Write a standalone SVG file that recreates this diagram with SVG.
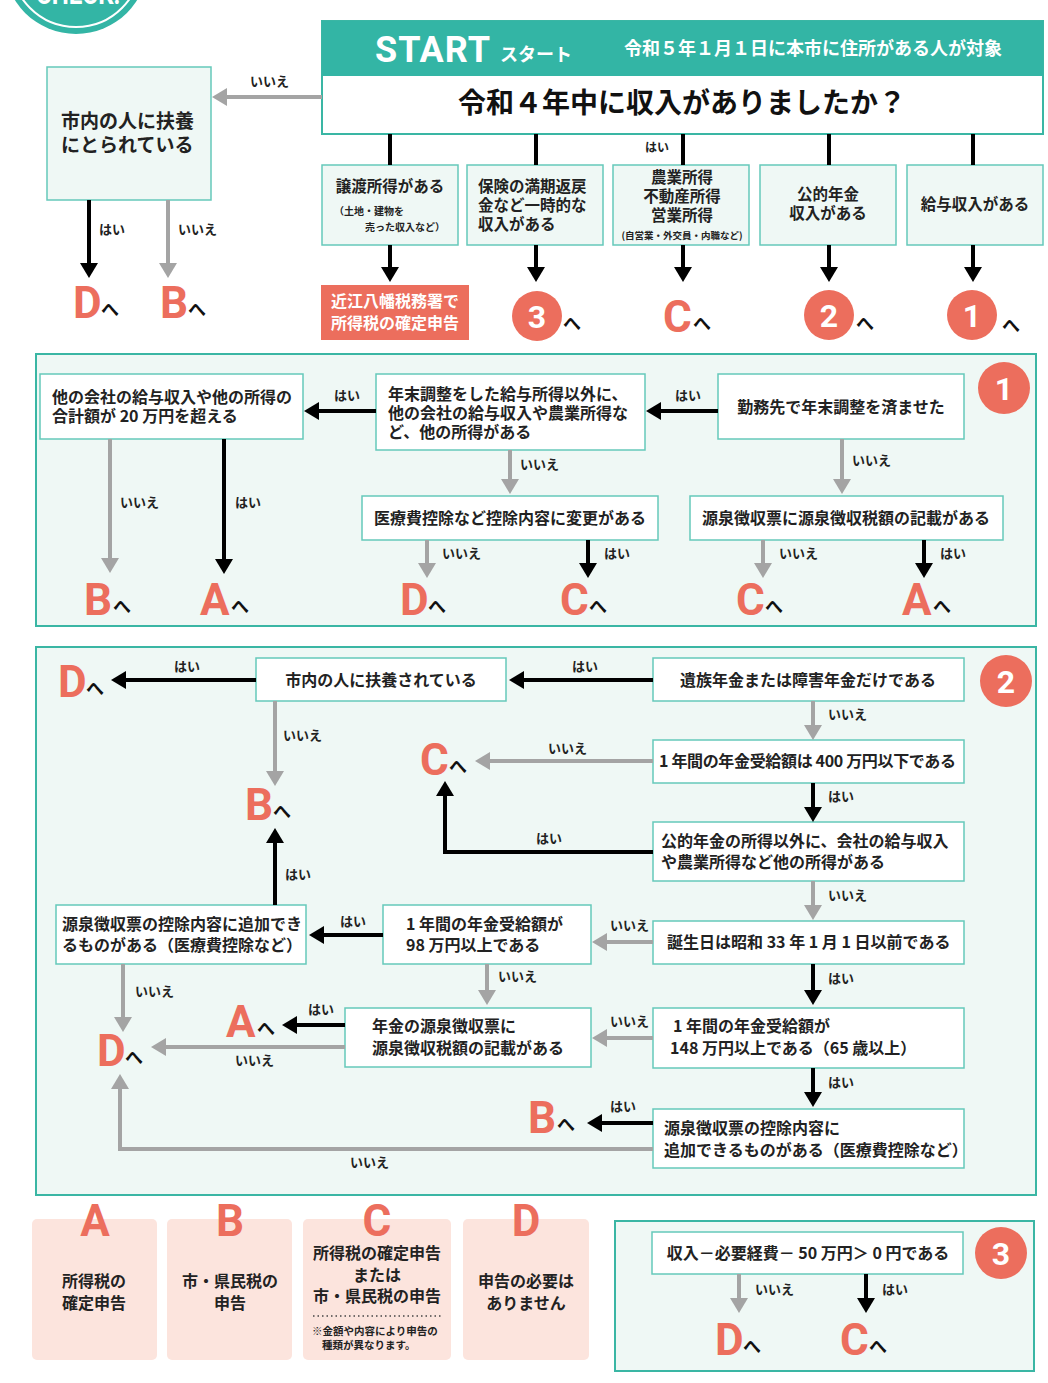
<svg xmlns="http://www.w3.org/2000/svg" width="1048" height="1383" viewBox="0 0 1048 1383">
<style>
.t{font-family:"Noto Sans CJK JP","Noto Sans",sans-serif;font-weight:700;fill:#222;font-size:16px}
.s{font-size:15.5px}
.m{text-anchor:middle}
.lb{font-family:"Noto Sans CJK JP",sans-serif;font-weight:700;font-size:13px;fill:#222}
.box{fill:#fff;stroke:#66c9ba;stroke-width:1.5}
.mb{fill:#eff8f5;stroke:#66c9ba;stroke-width:1.5}
.panel{fill:#eff8f5;stroke:#3ab6a4;stroke-width:2}
.blk{stroke:#000;stroke-width:4;fill:none}
.gry{stroke:#a4a4a4;stroke-width:4;fill:none}
.big{font-family:Roboto,"Liberation Sans",sans-serif;font-weight:700;font-size:44px;fill:#ec6e5d}
.he{font-family:"Noto Sans CJK JP",sans-serif;font-weight:700;font-size:18px;fill:#111}
.cn{font-family:Roboto,"Liberation Sans",sans-serif;font-weight:700;font-size:32px;fill:#fff;text-anchor:middle}
.leg{fill:#fce4dd}
</style>
<defs>
<marker id="ab" markerUnits="userSpaceOnUse" markerWidth="16" markerHeight="20" refX="0" refY="10" orient="auto"><path d="M0,1 L15,10 L0,19 z" fill="#000"/></marker>
<marker id="ag" markerUnits="userSpaceOnUse" markerWidth="16" markerHeight="20" refX="0" refY="10" orient="auto"><path d="M0,1 L15,10 L0,19 z" fill="#a4a4a4"/></marker>
</defs>

<!-- CHECK badge -->
<g id="badge">
<circle cx="76" cy="-38" r="72" fill="#33b5a5"/>
<circle cx="76" cy="-38" r="65" fill="none" stroke="#fff" stroke-width="2"/>
<text x="78" y="4" font-family="Roboto,sans-serif" font-weight="700" font-size="30" fill="#fff" text-anchor="middle" textLength="84" lengthAdjust="spacingAndGlyphs">CHECK!</text>
</g>

<!-- panels -->
<rect class="panel" x="36" y="354" width="1000" height="272"/>
<rect class="panel" x="36" y="647" width="1000" height="548"/>
<rect class="panel" x="615" y="1221" width="419" height="150"/>

<!-- header -->
<g id="start">
<rect x="322" y="21" width="721" height="113" fill="#fff" stroke="#3ab6a4" stroke-width="2"/>
<rect x="322" y="21" width="721" height="55" fill="#33b5a5"/>
<text x="375" y="62" font-family="Roboto,sans-serif" font-weight="700" font-size="36" fill="#fff" letter-spacing="1">START</text>
<text x="500" y="61" class="t" style="font-size:18px;fill:#fff">スタート</text>
<text x="813" y="55" class="t m" style="font-size:18px;fill:#fff">令和５年１月１日に本市に住所がある人が対象</text>
<text x="682" y="113" class="t m" style="font-size:28px;fill:#111">令和４年中に収入がありましたか？</text>
</g>

<g id="fuyou-top">
<rect class="mb" x="47" y="67" width="164" height="133"/>
<text class="t" style="font-size:19px"><tspan x="61" y="128">市内の人に扶養</tspan><tspan x="61" y="152">にとられている</tspan></text>
</g>

<g id="q-jouto"><rect class="mb" x="322" y="165" width="136" height="80"/>
<text x="390" y="192" class="t s m">譲渡所得がある</text>
<text class="t" style="font-size:10px"><tspan x="334" y="215">（土地・建物を</tspan><tspan x="365" y="231">売った収入など）</tspan></text></g>
<g id="q-hoken"><rect class="mb" x="467" y="165" width="136" height="80"/>
<text class="t s"><tspan x="478" y="192">保険の満期返戻</tspan><tspan x="478" y="211">金など一時的な</tspan><tspan x="478" y="230">収入がある</tspan></text></g>
<g id="q-nougyou"><rect class="mb" x="613" y="165" width="136" height="80"/>
<text class="t s m"><tspan x="682" y="183">農業所得</tspan><tspan x="682" y="202">不動産所得</tspan><tspan x="682" y="221">営業所得</tspan><tspan x="682" y="239" style="font-size:9.5px">(自営業・外交員・内職など)</tspan></text></g>
<g id="q-nenkin"><rect class="mb" x="760" y="165" width="136" height="80"/>
<text class="t s m"><tspan x="828" y="200">公的年金</tspan><tspan x="828" y="219">収入がある</tspan></text></g>
<g id="q-kyuyo"><rect class="mb" x="907" y="165" width="136" height="80"/>
<text x="975" y="210" class="t s m">給与収入がある</text></g>

<g id="r-zeimusho"><rect x="321" y="285" width="148" height="55" fill="#ec6e5d"/>
<text class="t m" style="fill:#fff"><tspan x="395" y="307">近江八幡税務署で</tspan><tspan x="395" y="329">所得税の確定申告</tspan></text></g>
<g id="r-3"><circle cx="537" cy="316" r="25" fill="#ec6e5d"/><text x="537" y="328" class="cn">3</text><text x="563" y="330" class="he">へ</text></g>
<g id="r-c"><text x="663" y="332" class="big">C</text><text x="693" y="330" class="he">へ</text></g>
<g id="r-2"><circle cx="829" cy="315" r="25" fill="#ec6e5d"/><text x="829" y="327" class="cn">2</text><text x="856" y="330" class="he">へ</text></g>
<g id="r-1"><circle cx="972" cy="315" r="25" fill="#ec6e5d"/><text x="972" y="327" class="cn">1</text><text x="1002" y="332" class="he">へ</text></g>
<g id="r-tl"><text x="73" y="318" class="big">D</text><text x="101" y="316" class="he">へ</text>
<text x="160" y="318" class="big">B</text><text x="188" y="316" class="he">へ</text></g>

<!-- section 1 -->
<g id="s1-circle"><circle cx="1004" cy="388" r="26" fill="#ec6e5d"/><text x="1004" y="400" class="cn">1</text></g>
<g id="s1-kinmu"><rect class="box" x="718" y="374" width="246" height="65"/>
<text x="841" y="413" class="t m">勤務先で年末調整を済ませた</text></g>
<g id="s1-hoka"><rect class="box" x="376" y="374" width="269" height="76"/>
<text class="t"><tspan x="388" y="400">年末調整をした給与所得以外に、</tspan><tspan x="388" y="419">他の会社の給与収入や農業所得な</tspan><tspan x="388" y="438">ど、他の所得がある</tspan></text></g>
<g id="s1-20man"><rect class="box" x="40" y="374" width="263" height="65"/>
<text class="t"><tspan x="52" y="403">他の会社の給与収入や他の所得の</tspan><tspan x="52" y="422">合計額が 20 万円を超える</tspan></text></g>
<g id="s1-iryou"><rect class="box" x="362" y="496" width="296" height="44"/>
<text x="510" y="524" class="t m">医療費控除など控除内容に変更がある</text></g>
<g id="s1-gensen"><rect class="box" x="690" y="496" width="313" height="44"/>
<text x="846" y="524" class="t m">源泉徴収票に源泉徴収税額の記載がある</text></g>
<g id="s1-targets">
<text x="84" y="615" class="big">B</text><text x="113" y="613" class="he">へ</text>
<text x="200" y="615" class="big">A</text><text x="231" y="613" class="he">へ</text>
<text x="400" y="615" class="big">D</text><text x="428" y="613" class="he">へ</text>
<text x="560" y="615" class="big">C</text><text x="589" y="613" class="he">へ</text>
<text x="736" y="615" class="big">C</text><text x="765" y="613" class="he">へ</text>
<text x="902" y="615" class="big">A</text><text x="933" y="613" class="he">へ</text>
</g>

<!-- section 2 -->
<g id="s2-circle"><circle cx="1006" cy="681" r="26" fill="#ec6e5d"/><text x="1006" y="693" class="cn">2</text></g>
<g id="s2-izoku"><rect class="box" x="653" y="658" width="311" height="43"/>
<text x="808" y="686" class="t m">遺族年金または障害年金だけである</text></g>
<g id="s2-fuyou"><rect class="box" x="256" y="658" width="250" height="43"/>
<text x="381" y="686" class="t m">市内の人に扶養されている</text></g>
<g id="s2-400"><rect class="box" x="653" y="740" width="311" height="43"/>
<text x="659" y="767" class="t" textLength="297" lengthAdjust="spacing">1 年間の年金受給額は 400 万円以下である</text></g>
<g id="s2-hoka"><rect class="box" x="653" y="822" width="311" height="59"/>
<text class="t"><tspan x="661" y="847">公的年金の所得以外に、会社の給与収入</tspan><tspan x="661" y="868">や農業所得など他の所得がある</tspan></text></g>
<g id="s2-birth"><rect class="box" x="653" y="921" width="311" height="43"/>
<text x="667" y="948" class="t">誕生日は昭和 33 年 1 月 1 日以前である</text></g>
<g id="s2-98"><rect class="box" x="383" y="905" width="208" height="59"/>
<text class="t"><tspan x="406" y="930">1 年間の年金受給額が</tspan><tspan x="406" y="951">98 万円以上である</tspan></text></g>
<g id="s2-koujo1"><rect class="box" x="56" y="905" width="250" height="59"/>
<text class="t"><tspan x="62" y="930">源泉徴収票の控除内容に追加でき</tspan><tspan x="62" y="951">るものがある（医療費控除など）</tspan></text></g>
<g id="s2-nenkin-gensen"><rect class="box" x="345" y="1008" width="246" height="59"/>
<text class="t"><tspan x="372" y="1032">年金の源泉徴収票に</tspan><tspan x="372" y="1054">源泉徴収税額の記載がある</tspan></text></g>
<g id="s2-148"><rect class="box" x="653" y="1008" width="311" height="60"/>
<text class="t"><tspan x="673" y="1032">1 年間の年金受給額が</tspan><tspan x="670" y="1054">148 万円以上である（65 歳以上）</tspan></text></g>
<g id="s2-koujo2"><rect class="box" x="653" y="1109" width="311" height="59"/>
<text class="t"><tspan x="664" y="1134">源泉徴収票の控除内容に</tspan><tspan x="664" y="1156">追加できるものがある（医療費控除など）</tspan></text></g>
<g id="s2-targets">
<text x="58" y="697" class="big">D</text><text x="86" y="695" class="he">へ</text>
<text x="245" y="820" class="big">B</text><text x="273" y="818" class="he">へ</text>
<text x="420" y="775" class="big">C</text><text x="449" y="773" class="he">へ</text>
<text x="226" y="1037" class="big">A</text><text x="257" y="1035" class="he">へ</text>
<text x="97" y="1066" class="big">D</text><text x="125" y="1064" class="he">へ</text>
<text x="528" y="1133" class="big">B</text><text x="557" y="1131" class="he">へ</text>
</g>

<!-- section 3 -->
<g id="s3-circle"><circle cx="1001" cy="1253" r="26" fill="#ec6e5d"/><text x="1001" y="1265" class="cn">3</text></g>
<g id="s3-box"><rect class="box" x="652" y="1232" width="311" height="42"/>
<text x="808" y="1259" class="t m">収入－必要経費－ 50 万円＞ 0 円である</text></g>
<g id="s3-targets">
<text x="715" y="1355" class="big">D</text><text x="743" y="1353" class="he">へ</text>
<text x="840" y="1355" class="big">C</text><text x="869" y="1353" class="he">へ</text>
</g>

<!-- legend -->
<g id="leg-a"><rect class="leg" x="32" y="1219" width="125" height="141" rx="5"/>
<text x="95" y="1236" class="big" text-anchor="middle">A</text>
<text class="t m"><tspan x="94" y="1287">所得税の</tspan><tspan x="94" y="1309">確定申告</tspan></text></g>
<g id="leg-b"><rect class="leg" x="167" y="1219" width="125" height="141" rx="5"/>
<text x="230" y="1236" class="big" text-anchor="middle">B</text>
<text class="t m"><tspan x="230" y="1287">市・県民税の</tspan><tspan x="230" y="1309">申告</tspan></text></g>
<g id="leg-c"><rect class="leg" x="303" y="1219" width="148" height="141" rx="5"/>
<text x="377" y="1236" class="big" text-anchor="middle">C</text>
<text class="t m"><tspan x="377" y="1259">所得税の確定申告</tspan><tspan x="377" y="1281">または</tspan><tspan x="377" y="1302">市・県民税の申告</tspan></text>
<line x1="313" y1="1316" x2="443" y2="1316" stroke="#444" stroke-width="1.5" stroke-dasharray="1.5 3"/>
<text class="t" style="font-size:10.5px"><tspan x="312" y="1335">※金額や内容により申告の</tspan><tspan x="322" y="1349">種類が異なります。</tspan></text></g>
<g id="leg-d"><rect class="leg" x="463" y="1219" width="126" height="141" rx="5"/>
<text x="526" y="1236" class="big" text-anchor="middle">D</text>
<text class="t m"><tspan x="526" y="1287">申告の必要は</tspan><tspan x="526" y="1309">ありません</tspan></text></g>

<!-- connectors -->
<g id="connectors">
<line class="gry" x1="322" y1="97" x2="227" y2="97" marker-end="url(#ag)"/>
<line class="blk" x1="89" y1="200" x2="89" y2="263" marker-end="url(#ab)"/>
<line class="gry" x1="168" y1="200" x2="168" y2="263" marker-end="url(#ag)"/>
<line class="blk" x1="390" y1="134" x2="390" y2="165"/>
<line class="blk" x1="536" y1="134" x2="536" y2="165"/>
<line class="blk" x1="683" y1="134" x2="683" y2="165"/>
<line class="blk" x1="829" y1="134" x2="829" y2="165"/>
<line class="blk" x1="973" y1="134" x2="973" y2="165"/>
<line class="blk" x1="390" y1="245" x2="390" y2="267" marker-end="url(#ab)"/>
<line class="blk" x1="536" y1="245" x2="536" y2="267" marker-end="url(#ab)"/>
<line class="blk" x1="683" y1="245" x2="683" y2="267" marker-end="url(#ab)"/>
<line class="blk" x1="829" y1="245" x2="829" y2="267" marker-end="url(#ab)"/>
<line class="blk" x1="973" y1="245" x2="973" y2="267" marker-end="url(#ab)"/>

<line class="blk" x1="718" y1="411" x2="661" y2="411" marker-end="url(#ab)"/>
<line class="blk" x1="376" y1="411" x2="319" y2="411" marker-end="url(#ab)"/>
<line class="gry" x1="110" y1="439" x2="110" y2="558" marker-end="url(#ag)"/>
<line class="blk" x1="224" y1="439" x2="224" y2="559" marker-end="url(#ab)"/>
<line class="gry" x1="510" y1="450" x2="510" y2="479" marker-end="url(#ag)"/>
<line class="gry" x1="842" y1="439" x2="842" y2="479" marker-end="url(#ag)"/>
<line class="gry" x1="427" y1="540" x2="427" y2="563" marker-end="url(#ag)"/>
<line class="blk" x1="588" y1="540" x2="588" y2="563" marker-end="url(#ab)"/>
<line class="gry" x1="763" y1="540" x2="763" y2="563" marker-end="url(#ag)"/>
<line class="blk" x1="924" y1="540" x2="924" y2="563" marker-end="url(#ab)"/>

<line class="blk" x1="653" y1="680" x2="524" y2="680" marker-end="url(#ab)"/>
<line class="blk" x1="256" y1="680" x2="126" y2="680" marker-end="url(#ab)"/>
<line class="gry" x1="275" y1="701" x2="275" y2="771" marker-end="url(#ag)"/>
<line class="gry" x1="813" y1="701" x2="813" y2="725" marker-end="url(#ag)"/>
<line class="gry" x1="653" y1="761" x2="490" y2="761" marker-end="url(#ag)"/>
<line class="blk" x1="813" y1="783" x2="813" y2="807" marker-end="url(#ab)"/>
<path class="blk" d="M653,852 H445 V796" marker-end="url(#ab)"/>
<line class="gry" x1="813" y1="881" x2="813" y2="905" marker-end="url(#ag)"/>
<line class="gry" x1="653" y1="942" x2="607" y2="942" marker-end="url(#ag)"/>
<line class="blk" x1="383" y1="935" x2="324" y2="935" marker-end="url(#ab)"/>
<line class="blk" x1="275" y1="905" x2="275" y2="843" marker-end="url(#ab)"/>
<line class="gry" x1="123" y1="964" x2="123" y2="1017" marker-end="url(#ag)"/>
<line class="gry" x1="487" y1="964" x2="487" y2="990" marker-end="url(#ag)"/>
<line class="blk" x1="345" y1="1025" x2="297" y2="1025" marker-end="url(#ab)"/>
<line class="gry" x1="345" y1="1047" x2="166" y2="1047" marker-end="url(#ag)"/>
<line class="blk" x1="813" y1="964" x2="813" y2="990" marker-end="url(#ab)"/>
<line class="gry" x1="653" y1="1038" x2="607" y2="1038" marker-end="url(#ag)"/>
<line class="blk" x1="813" y1="1068" x2="813" y2="1092" marker-end="url(#ab)"/>
<line class="blk" x1="653" y1="1123" x2="602" y2="1123" marker-end="url(#ab)"/>
<path class="gry" d="M653,1149 H120 V1089" marker-end="url(#ag)"/>

<line class="gry" x1="739" y1="1274" x2="739" y2="1298" marker-end="url(#ag)"/>
<line class="blk" x1="866" y1="1274" x2="866" y2="1298" marker-end="url(#ab)"/>

<text x="250" y="86" class="lb">いいえ</text>
<text x="99" y="234" class="lb">はい</text>
<text x="178" y="234" class="lb">いいえ</text>
<text x="645" y="152" class="lb" style="font-size:12px">はい</text>
<text x="675" y="400" class="lb">はい</text>
<text x="334" y="400" class="lb">はい</text>
<text x="120" y="507" class="lb">いいえ</text>
<text x="235" y="507" class="lb">はい</text>
<text x="520" y="469" class="lb">いいえ</text>
<text x="852" y="465" class="lb">いいえ</text>
<text x="442" y="558" class="lb">いいえ</text>
<text x="604" y="558" class="lb">はい</text>
<text x="779" y="558" class="lb">いいえ</text>
<text x="940" y="558" class="lb">はい</text>
<text x="572" y="671" class="lb">はい</text>
<text x="174" y="671" class="lb">はい</text>
<text x="283" y="740" class="lb">いいえ</text>
<text x="828" y="719" class="lb">いいえ</text>
<text x="548" y="753" class="lb">いいえ</text>
<text x="828" y="801" class="lb">はい</text>
<text x="536" y="843" class="lb">はい</text>
<text x="828" y="900" class="lb">いいえ</text>
<text x="610" y="930" class="lb">いいえ</text>
<text x="340" y="926" class="lb">はい</text>
<text x="285" y="879" class="lb">はい</text>
<text x="135" y="996" class="lb">いいえ</text>
<text x="498" y="981" class="lb">いいえ</text>
<text x="308" y="1014" class="lb">はい</text>
<text x="235" y="1065" class="lb">いいえ</text>
<text x="828" y="983" class="lb">はい</text>
<text x="610" y="1026" class="lb">いいえ</text>
<text x="828" y="1087" class="lb">はい</text>
<text x="610" y="1111" class="lb">はい</text>
<text x="350" y="1167" class="lb">いいえ</text>
<text x="755" y="1294" class="lb">いいえ</text>
<text x="882" y="1294" class="lb">はい</text>
</g>
</svg>
